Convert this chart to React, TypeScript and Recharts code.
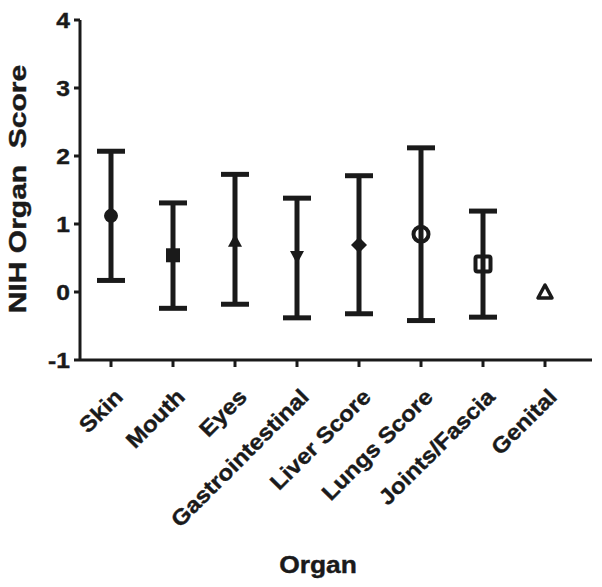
import {
  ComposedChart,
  Scatter,
  ErrorBar,
  XAxis,
  YAxis,
  Label,
} from "recharts";

const organs = [
  "Skin",
  "Mouth",
  "Eyes",
  "Gastrointestinal",
  "Liver Score",
  "Lungs Score",
  "Joints/Fascia",
  "Genital",
];
const means = [1.12, 0.54, 0.74, 0.53, 0.69, 0.85, 0.41, 0.0];
const upper = [2.07, 1.31, 1.73, 1.38, 1.71, 2.12, 1.19, null];
const lower = [0.17, -0.24, -0.18, -0.38, -0.32, -0.42, -0.37, null];
const markers = [
  "circle",
  "square",
  "triangle",
  "triangleDown",
  "diamond",
  "openCircle",
  "openSquare",
  "openTriangle",
];
const yTicks = [-1, 0, 1, 2, 3, 4];

const INK = "#1a1a1a";
const FONT = "'Liberation Sans', Arial, sans-serif";

const data = organs.map((organ, i) => ({
  organ,
  score: means[i],
  marker: markers[i],
  err:
    upper[i] == null || lower[i] == null
      ? null
      : [means[i] - (lower[i] as number), (upper[i] as number) - means[i]],
}));

// marcador por categoria (estilo GraphPad)
const Marker = (props: any) => {
  const { cx, cy, payload } = props;
  if (cx == null || cy == null) return null;
  switch (payload.marker) {
    case "circle":
      return <circle cx={cx} cy={cy} r={7} fill={INK} />;
    case "square":
      return <rect x={cx - 7} y={cy - 7} width={14} height={14} fill={INK} />;
    case "triangle":
      return (
        <polygon
          points={`${cx},${cy - 8} ${cx - 7},${cy + 5} ${cx + 7},${cy + 5}`}
          fill={INK}
        />
      );
    case "triangleDown":
      return (
        <polygon
          points={`${cx},${cy + 8} ${cx - 7},${cy - 5} ${cx + 7},${cy - 5}`}
          fill={INK}
        />
      );
    case "diamond":
      return (
        <polygon
          points={`${cx},${cy - 8} ${cx + 8},${cy} ${cx},${cy + 8} ${cx - 8},${cy}`}
          fill={INK}
        />
      );
    case "openCircle":
      return <circle cx={cx} cy={cy} r={7.5} fill="none" stroke={INK} strokeWidth={4} />;
    case "openSquare":
      return (
        <rect
          x={cx - 7.5}
          y={cy - 7.5}
          width={15}
          height={15}
          rx={2}
          fill="none"
          stroke={INK}
          strokeWidth={4}
        />
      );
    default:
      return (
        <polygon
          points={`${cx},${cy - 7} ${cx - 7},${cy + 6} ${cx + 7},${cy + 6}`}
          fill="none"
          stroke={INK}
          strokeWidth={3.5}
          strokeLinejoin="round"
        />
      );
  }
};

const OrganTick = (props: any) => {
  const { x, y, payload } = props;
  return (
    <g transform={`translate(${x + 2},${y + 18}) rotate(-45) scale(1.1,1)`}>
      <text
        x={0}
        y={0}
        dy="0.72em"
        textAnchor="end"
        fontFamily={FONT}
        fontWeight="bold"
        fontSize={22}
        stroke={INK}
        strokeWidth={0.4}
        fill={INK}
      >
        {payload.value}
      </text>
    </g>
  );
};

const ValueTick = (props: any) => {
  const { x, y, payload } = props;
  return (
    <g transform={`translate(${x - 2},${y}) scale(1.12,1)`}>
      <text
        x={0}
        y={0}
        dy="0.36em"
        textAnchor="end"
        fontFamily={FONT}
        fontWeight="bold"
        fontSize={22}
        stroke={INK}
        strokeWidth={0.4}
        fill={INK}
      >
        {payload.value}
      </text>
    </g>
  );
};

export default function App() {
  return (
    <div style={{ position: "absolute", left: 0, top: 0, background: "#fff" }}>
      <ComposedChart
        width={602}
        height={587}
        data={data}
        margin={{ top: 20, right: 10, left: 0, bottom: 0 }}
      >
        <XAxis
          dataKey="organ"
          type="category"
          padding={{ left: 31, right: 47 }}
          height={227}
          interval={0}
          stroke={INK}
          strokeWidth={3}
          tickSize={7}
          tick={<OrganTick />}
        >
          <Label
            content={() => (
              <g transform="translate(318,573) scale(1.1,1)">
                <text
                  x={0}
                  y={0}
                  textAnchor="middle"
                  fontFamily={FONT}
                  fontWeight="bold"
                  fontSize={24}
                  stroke={INK}
                  strokeWidth={0.4}
                  fill={INK}
                >
                  Organ
                </text>
              </g>
            )}
          />
        </XAxis>
        <YAxis
          type="number"
          domain={[-1, 4]}
          ticks={yTicks}
          width={80}
          stroke={INK}
          strokeWidth={3}
          tickSize={6}
          tick={<ValueTick />}
        >
          <Label
            content={() => (
              <g transform="translate(26,189) rotate(-90) scale(1.25,1)">
                <text
                  x={0}
                  y={0}
                  textAnchor="middle"
                  fontFamily={FONT}
                  fontWeight="bold"
                  fontSize={24}
                  stroke={INK}
                  strokeWidth={0.4}
                  fill={INK}
                  style={{ whiteSpace: "pre" }}
                >
                  NIH Organ  Score
                </text>
              </g>
            )}
          />
        </YAxis>
        <Scatter dataKey="score" shape={<Marker />} isAnimationActive={false}>
          <ErrorBar
            dataKey="err"
            direction="y"
            width={14}
            stroke={INK}
            strokeWidth={5}
            isAnimationActive={false}
          />
        </Scatter>
      </ComposedChart>
    </div>
  );
}
